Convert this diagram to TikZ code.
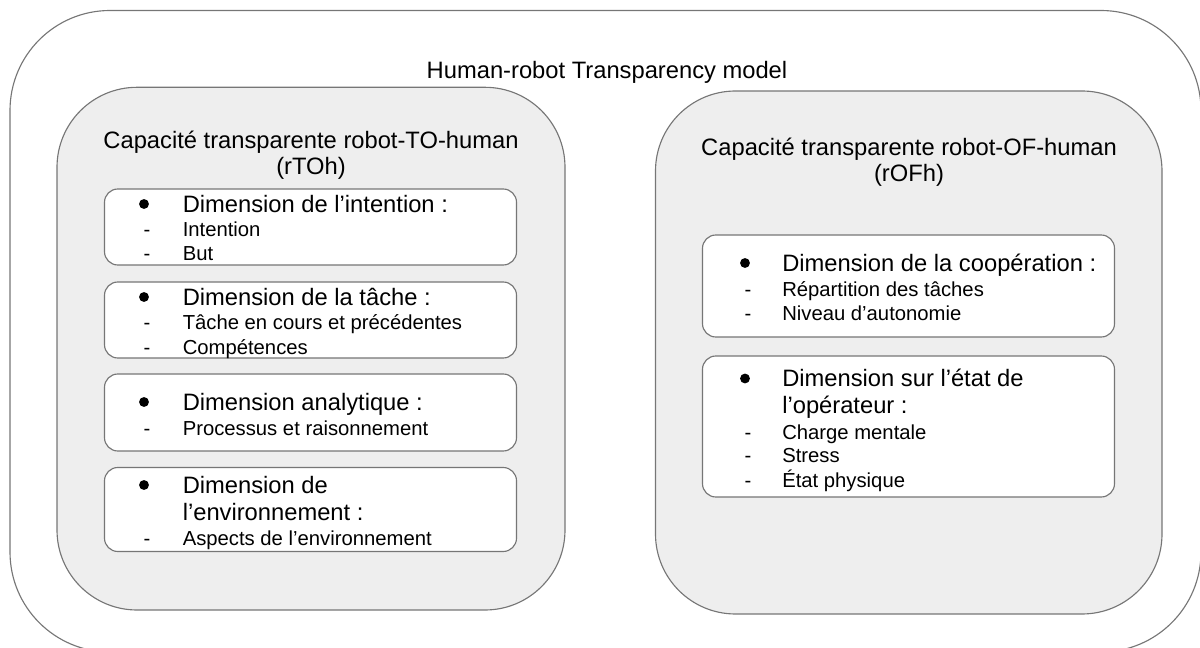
\documentclass[tikz,border=0pt]{standalone}
\usepackage{fontspec}
\setmainfont{Liberation Sans}
\usepackage{tikz}
\definecolor{framegray}{RGB}{118,118,118}
\definecolor{panelgray}{RGB}{238,238,238}
\tikzset{
  outerframe/.style={draw=framegray, line width=0.85pt, rounded corners=75pt},
  panel/.style={draw=framegray, fill=panelgray, line width=0.85pt, rounded corners=60pt},
  dimbox/.style={draw=framegray, fill=white, line width=0.85pt, rounded corners=10pt},
  titletext/.style={font=\fontsize{17.8}{21}\selectfont, inner sep=0pt, text height=12.8pt, text depth=0pt},
  headtext/.style={titletext, anchor=west},
  itemdash/.style={font=\fontsize{15.2}{18}\selectfont, inner sep=0pt, text height=10.9pt, text depth=0pt},
  itemtext/.style={itemdash, anchor=west},
  bulletdot/.style={circle, fill=black, inner sep=0pt, minimum size=7.4pt}
}
\begin{document}
\begin{tikzpicture}[x=0.75pt,y=-0.75pt]
\useasboundingbox (0,0) rectangle (1200,648);
\draw[outerframe] (10,10.5) rectangle (1201,652);
\node[titletext] (model) at (607,70) {Human-robot Transparency model};
\draw[panel] (57,87.3) rectangle (565,610);
\draw[panel] (655.5,91) rectangle (1162,614);
\node[titletext] (rtohA) at (311,140) {Capacité transparente robot-TO-human};
\node[titletext] (rtohB) at (311,166) {(rTOh)};
\node[titletext] (rofhA) at (909,147) {Capacité transparente robot-OF-human};
\node[titletext] (rofhB) at (909,173) {(rOFh)};
\draw[dimbox] (104.5,189) rectangle (516.5,265);
\node[bulletdot] (intentdot) at (144,204) {};
\node[headtext] (intent) at (182.5,204) {Dimension de l’intention :};
\node[itemdash] (intentdashA) at (147,229) {-};
\node[itemtext] (intentA) at (182.5,229) {Intention};
\node[itemdash] (intentdashB) at (147,253) {-};
\node[itemtext] (intentB) at (182.5,253) {But};
\draw[dimbox] (104.5,282) rectangle (516.5,358);
\node[bulletdot] (taskdot) at (144,297) {};
\node[headtext] (task) at (182.5,297) {Dimension de la tâche :};
\node[itemdash] (taskdashA) at (147,322) {-};
\node[itemtext] (taskA) at (182.5,322) {Tâche en cours et précédentes};
\node[itemdash] (taskdashB) at (147,347) {-};
\node[itemtext] (taskB) at (182.5,347) {Compétences};
\draw[dimbox] (104.5,374) rectangle (516.5,451);
\node[bulletdot] (analytdot) at (144,402) {};
\node[headtext] (analyt) at (182.5,402) {Dimension analytique :};
\node[itemdash] (analytdashA) at (147,428) {-};
\node[itemtext] (analytA) at (182.5,428) {Processus et raisonnement};
\draw[dimbox] (104.5,467.5) rectangle (516.5,551.5);
\node[bulletdot] (envdot) at (144,485) {};
\node[headtext] (envA) at (182.5,485) {Dimension de};
\node[headtext] (envB) at (182.5,512) {l’environnement :};
\node[itemdash] (envdashA) at (147,538.5) {-};
\node[itemtext] (envC) at (182.5,538.5) {Aspects de l’environnement};
\draw[dimbox] (702.5,235) rectangle (1114.5,337);
\node[bulletdot] (coopdot) at (745,263) {};
\node[headtext] (coop) at (782,263) {Dimension de la coopération :};
\node[itemdash] (coopdashA) at (748,289) {-};
\node[itemtext] (coopA) at (782,289) {Répartition des tâches};
\node[itemdash] (coopdashB) at (748,313) {-};
\node[itemtext] (coopB) at (782,313) {Niveau d’autonomie};
\draw[dimbox] (702.5,356) rectangle (1114.5,497);
\node[bulletdot] (operdot) at (745,378.5) {};
\node[headtext] (operA) at (782,378) {Dimension sur l’état de};
\node[headtext] (operB) at (782,405) {l’opérateur :};
\node[itemdash] (operdashA) at (748,432) {-};
\node[itemtext] (operC) at (782,432) {Charge mentale};
\node[itemdash] (operdashB) at (748,455.5) {-};
\node[itemtext] (operD) at (782,455.5) {Stress};
\node[itemdash] (operdashC) at (748,480) {-};
\node[itemtext] (operE) at (782,480) {État physique};
\end{tikzpicture}
\end{document}
